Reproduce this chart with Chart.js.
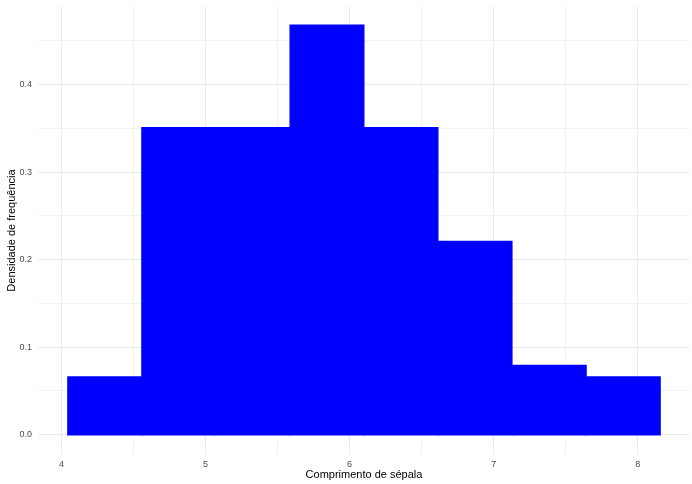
<!DOCTYPE html>
<html>
<head>
<meta charset="utf-8">
<script src="https://cdn.jsdelivr.net/npm/chart.js@4/dist/chart.umd.min.js"></script>
<style>
  html, body { margin: 0; padding: 0; background: #fff; }
  #wrap { width: 692px; height: 484px; }
</style>
</head>
<body>
<div id="wrap"><canvas id="myChart"></canvas></div>
<script>
// bin centres (comprimento de sépala) and densities
const binCenters = [4.3, 4.814, 5.329, 5.843, 6.357, 6.871, 7.386, 7.9];
const densities = [0.065, 0.350, 0.350, 0.467, 0.350, 0.220, 0.078, 0.065];

const xTicks = [4, 4.5, 5, 5.5, 6, 6.5, 7, 7.5, 8];
const yTicks = [0, 0.05, 0.1, 0.15, 0.2, 0.25, 0.3, 0.35, 0.4, 0.45];

const tickFont = { family: 'Liberation Sans, Arial, sans-serif', size: 9 };
const titleFont = { family: 'Liberation Sans, Arial, sans-serif', size: 11 };

// major lines on whole numbers (x) / tenths (y), minor lines in between
function xGridColor(c) {
    if (!c.tick) return '#EBEBEB';
    return Number.isInteger(c.tick.value) ? '#EBEBEB' : '#F2F2F2';
}
function yGridColor(c) {
    if (!c.tick) return '#EBEBEB';
    return Math.round(c.tick.value * 100) % 10 === 0 ? '#EBEBEB' : '#F2F2F2';
}

const ctx = document.getElementById('myChart').getContext('2d');
const myChart = new Chart(ctx, {
    type: 'bar',
    data: {
        datasets: [{
            data: binCenters.map((x, i) => ({ x: x, y: densities[i] })),
            backgroundColor: '#0000FF',
            borderWidth: 0,
            inflateAmount: 1.5,
            barPercentage: 1.0,
            categoryPercentage: 1.0
        }]
    },
    options: {
        responsive: true,
        maintainAspectRatio: false,
        animation: false,
        layout: { padding: { top: 6, right: 2, left: 0, bottom: 0 } },
        plugins: { legend: { display: false }, tooltip: { enabled: false } },
        scales: {
            x: {
                type: 'linear',
                offset: false,
                min: 3.837,
                max: 8.363,
                afterBuildTicks: function (scale) {
                    scale.ticks = xTicks.map(v => ({ value: v }));
                },
                afterFit: function (scale) {
                    scale.height = 29;
                    scale.paddingLeft = 0;
                    scale.paddingRight = 0;
                },
                border: { display: false },
                grid: { drawTicks: false, offset: false, color: xGridColor, lineWidth: 1 },
                ticks: {
                    padding: 4,
                    color: '#4D4D4D',
                    font: tickFont,
                    maxRotation: 0,
                    autoSkip: false,
                    callback: function (v) { return Number.isInteger(v) ? String(v) : ''; }
                },
                title: {
                    display: true,
                    text: 'Comprimento de sépala',
                    color: '#000',
                    font: titleFont,
                    padding: { top: 0, bottom: 2 }
                }
            },
            y: {
                min: -0.0233,
                max: 0.4899,
                afterBuildTicks: function (scale) {
                    scale.ticks = yTicks.map(v => ({ value: v }));
                },
                afterFit: function (scale) {
                    scale.width = 38;
                    scale.paddingTop = 0;
                    scale.paddingBottom = 0;
                },
                border: { display: false },
                grid: { drawTicks: false, color: yGridColor, lineWidth: 1 },
                ticks: {
                    padding: 6,
                    color: '#4D4D4D',
                    font: tickFont,
                    autoSkip: false,
                    callback: function (v) {
                        const r = Math.round(v * 100);
                        return r % 10 === 0 ? (r / 100).toFixed(1) : '';
                    }
                },
                title: {
                    display: true,
                    text: 'Densidade de frequência',
                    color: '#000',
                    font: titleFont,
                    padding: { top: 5, bottom: 0 }
                }
            }
        }
    }
});
</script>
</body>
</html>
